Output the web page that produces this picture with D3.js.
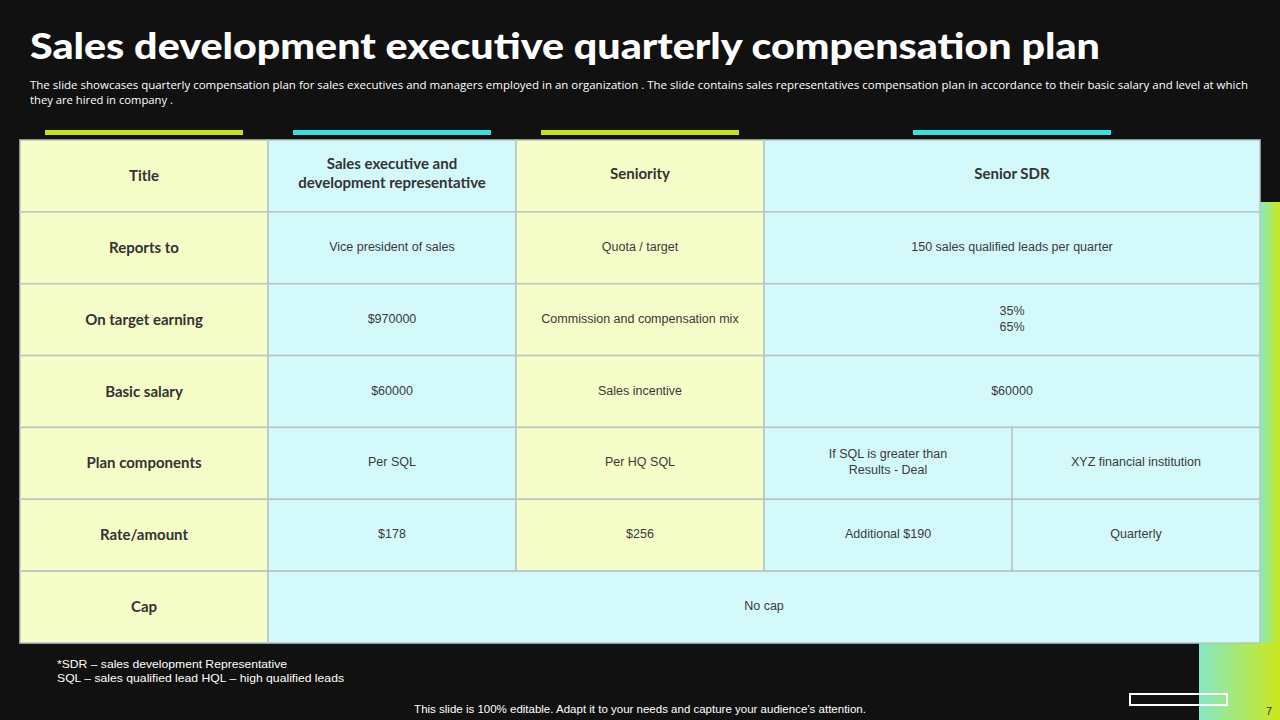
<!DOCTYPE html>
<html>
<head>
<meta charset="utf-8">
<script src="https://cdn.jsdelivr.net/npm/d3@7"></script>
<style>
body { margin:0; background:#111; }
</style>
</head>
<body>
<svg id="slide" width="1280" height="720"></svg>
<script>
var title = "Sales development executive quarterly compensation plan";
var subtitle = ["The slide showcases quarterly compensation plan for sales executives and managers employed in an organization . The slide contains sales representatives compensation plan in accordance to their basic salary and level at which",
  "they are hired in company ."];
var rowLabels = ["Title", "Reports to", "On target earning", "Basic salary", "Plan components", "Rate/amount", "Cap"];
// each cell: [text, start column, span, colour key]
var cells = [
  [["Sales executive and\ndevelopment representative", 1, 1, "c", true], ["Seniority", 2, 1, "y", true], ["Senior SDR", 3, 2, "c", true]],
  [["Vice president  of sales", 1, 1, "c"], ["Quota  / target", 2, 1, "y"], ["150  sales qualified  leads  per quarter", 3, 2, "c"]],
  [["$970000", 1, 1, "c"], ["Commission  and compensation mix", 2, 1, "y"], ["35%\n65%", 3, 2, "c"]],
  [["$60000", 1, 1, "c"], ["Sales incentive", 2, 1, "y"], ["$60000", 3, 2, "c"]],
  [["Per SQL", 1, 1, "c"], ["Per HQ  SQL", 2, 1, "y"], ["If SQL is greater  than\nResults - Deal", 3, 1, "c"], ["XYZ  financial  institution", 4, 1, "c"]],
  [["$178", 1, 1, "c"], ["$256", 2, 1, "y"], ["Additional  $190", 3, 1, "c"], ["Quarterly", 4, 1, "c"]],
  [["No cap", 1, 4, "c"]]
];
var footnotes = ["*SDR \u2013 sales development Representative", "SQL \u2013 sales qualified lead HQL \u2013 high qualified leads"];
var accentBars = [[0, "y"], [1, "c"], [2, "y"], [3.5, "c"]];

var fills = {y: "#f5fdc8", c: "#d4f9fb"};
var accent = {y: "#c5e01e", c: "#3fdde0"};

var svg = d3.select("#slide");
var defs = svg.append("defs");
var grad = defs.append("linearGradient").attr("id", "g").attr("x1", 0).attr("x2", 1);
grad.append("stop").attr("offset", 0).attr("stop-color", "#86e8c4");
grad.append("stop").attr("offset", 1).attr("stop-color", "#cbe81c");

svg.append("rect").attr("x", 1260).attr("y", 202).attr("width", 20).attr("height", 518).attr("fill", "url(#g)");
svg.append("rect").attr("x", 1199).attr("y", 643).attr("width", 81).attr("height", 77).attr("fill", "url(#g)");

svg.append("text").attr("x", 30).attr("y", 59).attr("fill", "#fff")
  .style("font", "900 36px Lato, 'Open Sans', sans-serif")
  .attr("textLength", 1070).attr("lengthAdjust", "spacingAndGlyphs").text(title);
svg.selectAll(".sub").data(subtitle).enter().append("text")
  .attr("x", 30).attr("y", function(d, i) { return 89 + i * 15; })
  .attr("fill", "#fff").style("font", "11px 'Open Sans', sans-serif").attr("textLength", function(d, i){ return i == 0 ? 1218 : 143; })
  .attr("lengthAdjust", "spacingAndGlyphs")
  .text(function(d) { return d; });

var x = d3.scaleBand().domain(d3.range(5)).range([20, 1260]);
var y = d3.scaleBand().domain(d3.range(7)).range([140, 643]);

svg.selectAll(".acc").data(accentBars).enter().append("rect")
  .attr("x", function(d) { return x(0) + d[0] * x.bandwidth() + 25; })
  .attr("y", 130).attr("width", x.bandwidth() - 50).attr("height", 5)
  .attr("fill", function(d) { return accent[d[1]]; });

var table = svg.append("g");
// label column
rowLabels.forEach(function(lbl, r) {
  table.append("rect").attr("x", x(0)).attr("y", y(r)).attr("width", x.bandwidth()).attr("height", y.bandwidth())
    .attr("fill", fills.y).attr("stroke", "#b9c4c4").attr("stroke-width", 1.5);
  table.append("text").attr("x", x(0) + x.bandwidth() / 2).attr("y", y(r) + y.bandwidth() / 2 + 5)
    .attr("text-anchor", "middle").attr("fill", "#333").style("font", "bold 15px Lato, sans-serif").text(lbl);
});
cells.forEach(function(row, r) {
  row.forEach(function(c) {
    var x0 = x(c[1]), w = x.bandwidth() * c[2];
    table.append("rect").attr("x", x0).attr("y", y(r)).attr("width", w).attr("height", y.bandwidth())
      .attr("fill", fills[c[3]]).attr("stroke", "#b9c4c4").attr("stroke-width", 1.5);
    var lines = c[0].split("\n");
    var lh = c[4] ? 19 : 16;
    var t = table.append("text").attr("text-anchor", "middle").attr("fill", c[4] ? "#333" : "#3a3a3a")
      .style("font", c[4] ? "bold 15px Lato, sans-serif" : "12.5px 'Liberation Sans', Arial, sans-serif");
    lines.forEach(function(l, i) {
      t.append("tspan").attr("x", x0 + w / 2)
        .attr("y", y(r) + y.bandwidth() / 2 + 3 + (i - (lines.length - 1) / 2) * lh).text(l);
    });
  });
});

svg.selectAll(".fn").data(footnotes).enter().append("text")
  .attr("x", 57).attr("y", function(d, i) { return 668 + i * 14; })
  .attr("fill", "#fff").style("font", "11px 'Liberation Sans', Arial, sans-serif")
  .attr("textLength", function(d, i) { return i == 0 ? 230 : 287; }).attr("lengthAdjust", "spacingAndGlyphs")
  .text(function(d) { return d; });

svg.append("text").attr("x", 640).attr("y", 713).attr("text-anchor", "middle").attr("fill", "#fff")
  .style("font", "11.5px 'Liberation Sans', Arial, sans-serif")
  .text("This slide is 100% editable. Adapt it to your needs and capture your audience\u2019s attention.");
svg.append("rect").attr("x", 1130).attr("y", 694).attr("width", 97).attr("height", 11)
  .attr("fill", "none").attr("stroke", "#fff").attr("stroke-width", 2);
svg.append("text").attr("x", 1269).attr("y", 715).attr("text-anchor", "middle").attr("fill", "#333")
  .style("font", "11px 'Liberation Sans', Arial, sans-serif").text("7");
</script>
</body>
</html>
